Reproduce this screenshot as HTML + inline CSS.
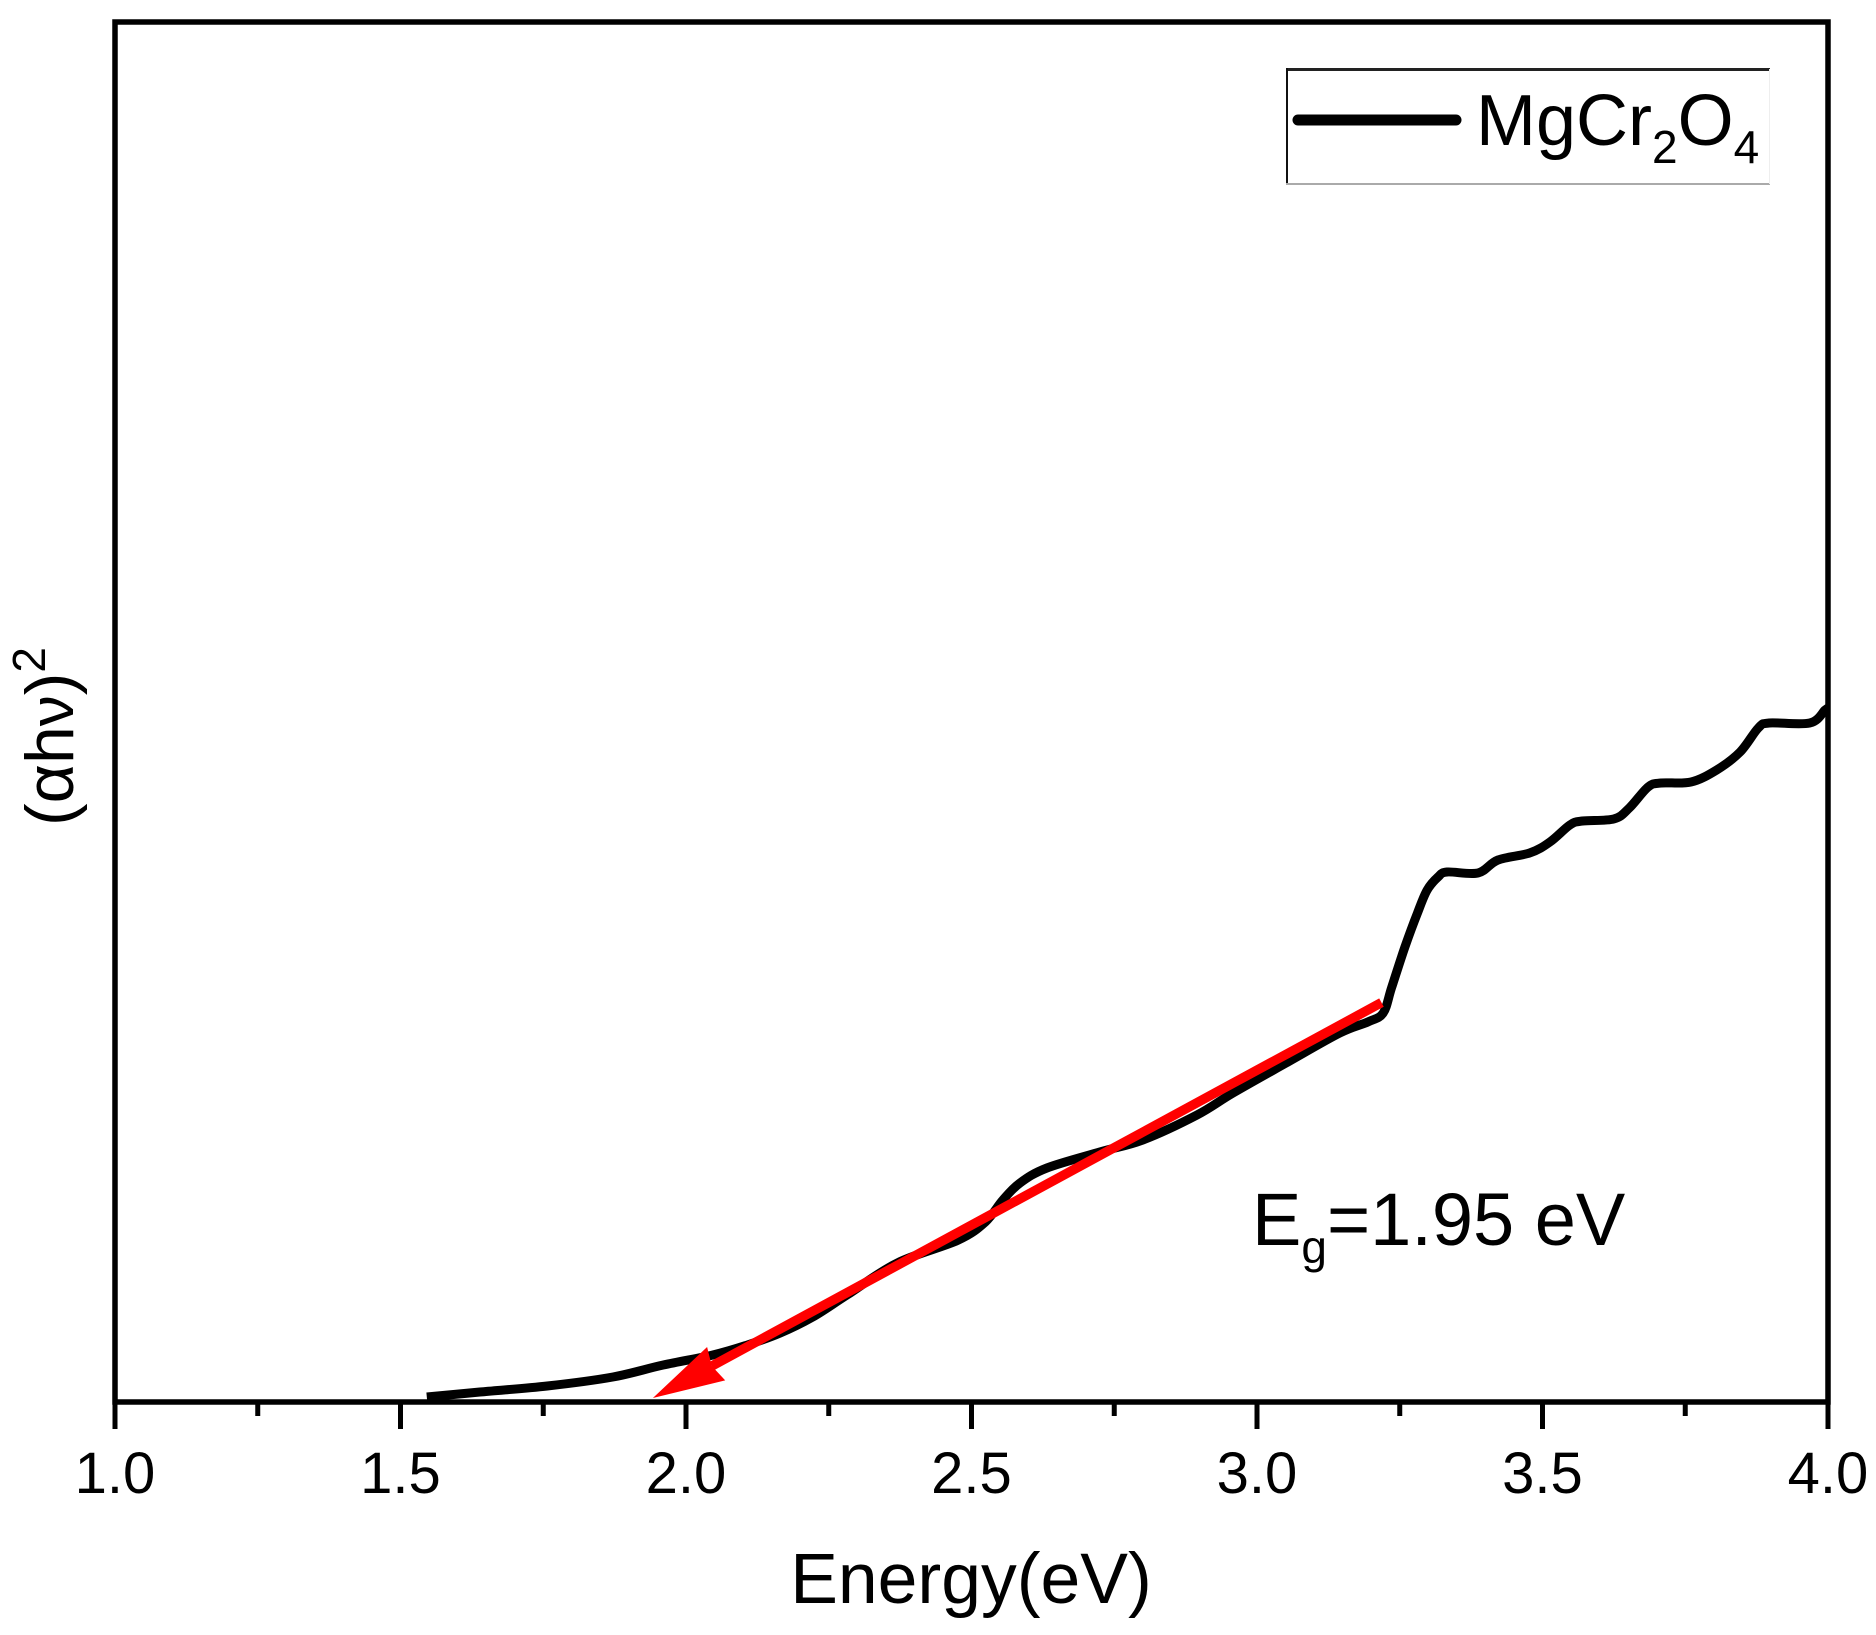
<!DOCTYPE html>
<html lang="en">
<head>
<meta charset="utf-8">
<title>MgCr2O4 Tauc plot</title>
<style>
  html, body { margin: 0; padding: 0; background: #fff; }
  svg { display: block; }
  text { font-family: "Liberation Sans", "DejaVu Sans", sans-serif; fill: #000; }
</style>
</head>
<body>
<svg id="chart" xmlns="http://www.w3.org/2000/svg" width="1876" height="1635" viewBox="0 0 1876 1635">
  <rect x="0" y="0" width="1876" height="1635" fill="#fff"/>
  <g id="series-layer"></g>
  <g id="axis-layer"></g>

  <text x="971" y="1603" font-size="71.5" text-anchor="middle">Energy(eV)</text>
  <text transform="translate(73 826) rotate(-90)" font-size="68">(αh<tspan font-size="62">ν</tspan>)<tspan font-size="46" dy="-28">2</tspan></text>

  <g>
    <rect x="1286" y="69" width="484" height="115" fill="#fff"/>
    <rect x="1286" y="68" width="484" height="3" fill="#222"/>
    <rect x="1286" y="68" width="2" height="116" fill="#111"/>
    <rect x="1286" y="183" width="484" height="2" fill="#aaa"/>
    <rect x="1769" y="69" width="1" height="115" fill="#eee"/>
    <line x1="1298" y1="120" x2="1456" y2="120" stroke="#000" stroke-width="11" stroke-linecap="round"/>
    <text x="1476" y="145" font-size="72">MgCr<tspan font-size="46" dy="18">2</tspan><tspan font-size="72" dy="-18">O</tspan><tspan font-size="46" dy="18">4</tspan></text>
  </g>

  <text x="1252" y="1245" font-size="74">E<tspan font-size="46" dy="18">g</tspan><tspan font-size="74" dy="-18">=1.95 eV</tspan></text>
</svg>

<script>
// Chart data
const energy = [1.546, 1.639, 1.757, 1.872, 1.960, 2.047, 2.107, 2.165, 2.222, 2.282, 2.370, 2.476, 2.524, 2.555, 2.585, 2.632, 2.725, 2.800, 2.895, 2.958, 3.051, 3.145, 3.194, 3.221, 3.236, 3.259, 3.281, 3.298, 3.317, 3.333, 3.387, 3.422, 3.478, 3.513, 3.548, 3.570, 3.625, 3.652, 3.685, 3.708, 3.760, 3.805, 3.846, 3.878, 3.897, 3.968, 3.995, 4.000];
const absorption = [0.36, 0.72, 1.16, 1.81, 2.68, 3.40, 4.12, 4.99, 6.15, 7.74, 10.06, 11.70, 13.02, 14.62, 15.85, 16.93, 18.09, 18.96, 20.77, 22.36, 24.53, 26.70, 27.50, 28.15, 30.03, 32.92, 35.38, 37.05, 37.99, 38.35, 38.28, 39.22, 39.73, 40.52, 41.75, 42.04, 42.19, 42.98, 44.50, 44.79, 44.86, 45.73, 47.03, 48.77, 49.13, 49.13, 50.07, 50.20];
const fitEnergy = [3.218, 1.942];
const fitValue = [28.90, 0.29];
const majorTicks = [1.0, 1.5, 2.0, 2.5, 3.0, 3.5, 4.0];
const minorTicks = [1.25, 1.75, 2.25, 2.75, 3.25, 3.75];
const tickLabels = ["1.0", "1.5", "2.0", "2.5", "3.0", "3.5", "4.0"];

const NS = "http://www.w3.org/2000/svg";
const plot = { left: 115, right: 1828, top: 22, bottom: 1402 };
const xDomain = [1, 4];
const yDomain = [0, 100];

function xScale(v) {
  return plot.left + (v - xDomain[0]) / (xDomain[1] - xDomain[0]) * (plot.right - plot.left);
}
function yScale(v) {
  return plot.bottom - (v - yDomain[0]) / (yDomain[1] - yDomain[0]) * 1382;
}
function make(tag, attrs, parent) {
  const el = document.createElementNS(NS, tag);
  for (const k in attrs) el.setAttribute(k, attrs[k]);
  parent.appendChild(el);
  return el;
}

const seriesLayer = document.getElementById("series-layer");
const axisLayer = document.getElementById("axis-layer");

// Smooth curve through the data
const pts = energy.map((e, i) => [xScale(e), yScale(absorption[i])]);
let d = "M" + pts[0][0].toFixed(1) + " " + pts[0][1].toFixed(1);
for (let i = 0; i < pts.length - 1; i++) {
  const p0 = pts[Math.max(i - 1, 0)], p1 = pts[i], p2 = pts[i + 1], p3 = pts[Math.min(i + 2, pts.length - 1)];
  const c1x = p1[0] + (p2[0] - p0[0]) / 6, c1y = p1[1] + (p2[1] - p0[1]) / 6;
  const c2x = p2[0] - (p3[0] - p1[0]) / 6, c2y = p2[1] - (p3[1] - p1[1]) / 6;
  d += " C" + c1x.toFixed(1) + " " + c1y.toFixed(1) + " " + c2x.toFixed(1) + " " + c2y.toFixed(1) + " " + p2[0].toFixed(1) + " " + p2[1].toFixed(1);
}
const curve = make("path", { d: d, fill: "none", stroke: "#000", "stroke-width": 9, "stroke-linejoin": "round", "stroke-linecap": "butt" }, seriesLayer);



// Red linear-fit arrow, drawn from the fit arrays
const fx1 = xScale(fitEnergy[0]), fy1 = yScale(fitValue[0]);
const fx2 = xScale(fitEnergy[1]), fy2 = yScale(fitValue[1]);
const len = Math.hypot(fx2 - fx1, fy2 - fy1);
const ux = (fx2 - fx1) / len, uy = (fy2 - fy1) / len;
const nx = -uy, ny = ux;
const headLen = 72, headHalf = 19, notch = 5;
const baseX = fx2 - ux * headLen, baseY = fy2 - uy * headLen;
const shaft = make("line", { x1: fx1, y1: fy1, x2: baseX + ux * notch, y2: baseY + uy * notch, stroke: "#f00", "stroke-width": 9.5 }, seriesLayer);


const head = make("polygon", {
  points: [
    [fx2, fy2],
    [baseX + nx * headHalf, baseY + ny * headHalf],
    [baseX + ux * notch, baseY + uy * notch],
    [baseX - nx * headHalf, baseY - ny * headHalf]
  ].map(p => p[0].toFixed(1) + "," + p[1].toFixed(1)).join(" "),
  fill: "#f00"
}, seriesLayer);



// Axis frame
const frame = make("rect", {
  x: plot.left, y: plot.top, width: plot.right - plot.left, height: plot.bottom - plot.top,
  fill: "none", stroke: "#000", "stroke-width": 5.5
}, axisLayer);



// Ticks and labels
majorTicks.forEach((v, i) => {
  const x = xScale(v);
  const tick = make("line", { x1: x, x2: x, y1: plot.bottom, y2: 1429, stroke: "#000", "stroke-width": 5 }, axisLayer);
  
  
  const label = make("text", { x: x, y: 1493, "font-size": 58, "text-anchor": "middle" }, axisLayer);
  
  
  label.textContent = tickLabels[i];
});
minorTicks.forEach((v) => {
  const x = xScale(v);
  const tick = make("line", { x1: x, x2: x, y1: plot.bottom, y2: 1416, stroke: "#000", "stroke-width": 5 }, axisLayer);
  
  
});
</script>
</body>
</html>
